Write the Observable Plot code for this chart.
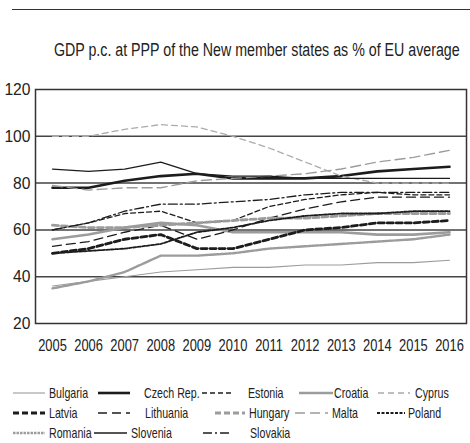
<!DOCTYPE html>
<html>
<head>
<meta charset="utf-8">
<script src="https://cdn.jsdelivr.net/npm/d3@7"></script>
<script src="https://cdn.jsdelivr.net/npm/@observablehq/plot@0.6"></script>
<style>
  html, body { margin: 0; padding: 0; background: #fff; }
  #wrap { position: relative; width: 470px; height: 443px; font-family: "Liberation Sans", Arial, sans-serif; color: #222; overflow: hidden; }
  #rule { position: absolute; left: 12px; right: 0; top: 9px; border-top: 1.5px solid #333; }
  #title { position: absolute; left: 0; width: 500px; top: 39px; text-align: center; white-space: nowrap; }
  #title span { display: inline-block; font-size: 18px; line-height: 22px; transform: scaleX(0.79); transform-origin: 50% 50%; }
  #chart { position: absolute; left: 0; top: 70px; }
  #legend { position: absolute; left: 0; top: 384px; width: 470px; }
  .sw { position: absolute; }
  .lt { position: absolute; font-size: 15px; line-height: 18px; white-space: nowrap; transform: scaleX(0.71); transform-origin: 0 50%; }
</style>
</head>
<body>
<div id="wrap">
  <div id="rule"></div>
  <div id="title"><span>GDP p.c. at PPP of the New member states as % of EU average</span></div>
  <div id="chart"></div>
  <div id="legend"></div>
</div>
<script>
// ---- data ----
const years = [2005, 2006, 2007, 2008, 2009, 2010, 2011, 2012, 2013, 2014, 2015, 2016];
const yTicks = [20, 40, 60, 80, 100, 120];
const countries = ["Bulgaria", "Czech Rep.", "Estonia", "Croatia", "Cyprus", "Latvia", "Lithuania", "Hungary", "Malta", "Poland", "Romania", "Slovenia", "Slovakia"];
const bulgaria  = [36, 38, 40, 42, 43, 44, 44, 45, 45, 46, 46, 47];
const czech     = [78, 78, 81, 83, 84, 82, 82, 82, 83, 85, 86, 87];
const estonia   = [60, 63, 67, 68, 63, 64, 70, 73, 75, 76, 75, 75];
const croatia   = [56, 58, 61, 63, 62, 59, 59, 59, 59, 58, 58, 59];
const cyprus    = [100, 100, 103, 105, 104, 100, 95, 89, 83, 80, 80, 80];
const latvia    = [50, 52, 56, 58, 52, 52, 56, 60, 61, 63, 63, 64];
const lithuania = [53, 55, 59, 62, 56, 60, 65, 69, 72, 74, 74, 74];
const hungary   = [62, 61, 61, 62, 63, 64, 65, 65, 66, 67, 67, 67];
const malta     = [79, 77, 78, 78, 81, 82, 83, 84, 86, 89, 91, 94];
const poland    = [50, 51, 52, 54, 59, 61, 64, 66, 67, 67, 68, 68];
const romania   = [35, 38, 42, 49, 49, 50, 52, 53, 54, 55, 56, 58];
const slovenia  = [86, 85, 86, 89, 84, 83, 83, 82, 82, 82, 82, 82];
const slovakia  = [60, 63, 68, 71, 71, 72, 73, 75, 76, 76, 76, 76];

const seriesValues = [bulgaria, czech, estonia, croatia, cyprus, latvia, lithuania, hungary, malta, poland, romania, slovenia, slovakia];

// ---- styles ----
const BLACK = "#1c1c1c", GRAY = "#9c9c9c", LGRAY = "#ababab";
const styles = {
  "Bulgaria":   {stroke: GRAY,  width: 1.1, dash: null},
  "Czech Rep.": {stroke: BLACK, width: 2.6, dash: null},
  "Estonia":    {stroke: BLACK, width: 1.3, dash: "5,3"},
  "Croatia":    {stroke: GRAY,  width: 2.6, dash: null},
  "Cyprus":     {stroke: LGRAY, width: 1.3, dash: "6,4"},
  "Latvia":     {stroke: BLACK, width: 2.8, dash: "6,3"},
  "Lithuania":  {stroke: BLACK, width: 1.3, dash: "9,5"},
  "Hungary":    {stroke: GRAY,  width: 2.8, dash: "6,3"},
  "Malta":      {stroke: GRAY,  width: 1.4, dash: "10,5"},
  "Poland":     {stroke: BLACK, width: 1.8, dash: "3,1.5"},
  "Romania":    {stroke: GRAY,  width: 2.4, dash: "2.5,1"},
  "Slovenia":   {stroke: BLACK, width: 1.3, dash: null},
  "Slovakia":   {stroke: BLACK, width: 1.3, dash: "9,3,2,3"}
};

const rows = [];
countries.forEach((c, k) => years.forEach((yr, i) => rows.push({country: c, year: yr, value: seriesValues[k][i]})));

const lineMarks = countries.map(c => {
  const s = styles[c];
  const o = {x: "year", y: "value", stroke: s.stroke, strokeWidth: s.width};
  if (s.dash) o.strokeDasharray = s.dash;
  return Plot.line(rows.filter(r => r.country === c), o);
});

const chart = Plot.plot({
  width: 470,
  height: 285,
  marginLeft: 35,
  marginRight: 4,
  marginTop: 19,
  marginBottom: 32,
  style: {fontFamily: "Liberation Sans, Arial, sans-serif", fontSize: "17px", color: "#222", background: "transparent"},
  x: {type: "linear", domain: [2005, 2016], insetLeft: 17, insetRight: 17},
  y: {domain: [20, 120]},
  marks: [
    Plot.ruleY([40, 60, 80, 100], {stroke: "#454545", strokeWidth: 1.5}),
    ...lineMarks,
    Plot.frame({stroke: "#333", strokeWidth: 1.5}),
    Plot.axisX({ticks: years, tickFormat: d => String(d), tickSize: 0, tickPadding: 15, label: null, fill: "#222"}),
    Plot.axisY({ticks: yTicks, tickSize: 0, tickPadding: 5, label: null, fill: "#222"})
  ]
});
document.getElementById("chart").appendChild(chart);
// condense the tick labels like the reference's narrow typeface
d3.select(chart).selectAll('g[aria-label="x-axis tick label"] text')
  .attr("transform", function() { return (this.getAttribute("transform") || "") + " scale(0.76,1)"; });
d3.select(chart).selectAll('g[aria-label="y-axis tick label"] text')
  .attr("transform", function() { return (this.getAttribute("transform") || "") + " scale(0.92,1)"; });

// ---- legend ----
const legendRows = [
  ["Bulgaria", "Czech Rep.", "Estonia", "Croatia", "Cyprus"],
  ["Latvia", "Lithuania", "Hungary", "Malta", "Poland"],
  ["Romania", "Slovenia", "Slovakia"]
];
const swX = [[13, 98, 202, 299, 378], [13, 98, 215, 295, 377], [13, 94, 203]];
const txX = [[49, 144, 248, 334, 415], [49, 145, 249, 332, 408], [49, 131, 250]];
const swW = [[32, 32, 31, 34, 32], [32, 32, 30, 33, 28], [32, 33, 27]];
const rowY = [0, 20, 40];
const legend = document.getElementById("legend");
legendRows.forEach((row, r) => row.forEach((c, j) => {
  const s = styles[c];
  const sw = d3.create("svg").attr("class", "sw").attr("width", swW[r][j]).attr("height", 10)
    .style("left", swX[r][j] + "px").style("top", (rowY[r] + 4) + "px");
  sw.append("line").attr("x1", 0).attr("x2", swW[r][j]).attr("y1", 5).attr("y2", 5)
    .attr("stroke", s.stroke).attr("stroke-width", s.width)
    .attr("stroke-dasharray", s.dash || null);
  legend.appendChild(sw.node());
  const t = document.createElement("div");
  t.className = "lt";
  t.style.left = txX[r][j] + "px";
  t.style.top = rowY[r] + "px";
  t.textContent = c;
  legend.appendChild(t);
}));
</script>
</body>
</html>
